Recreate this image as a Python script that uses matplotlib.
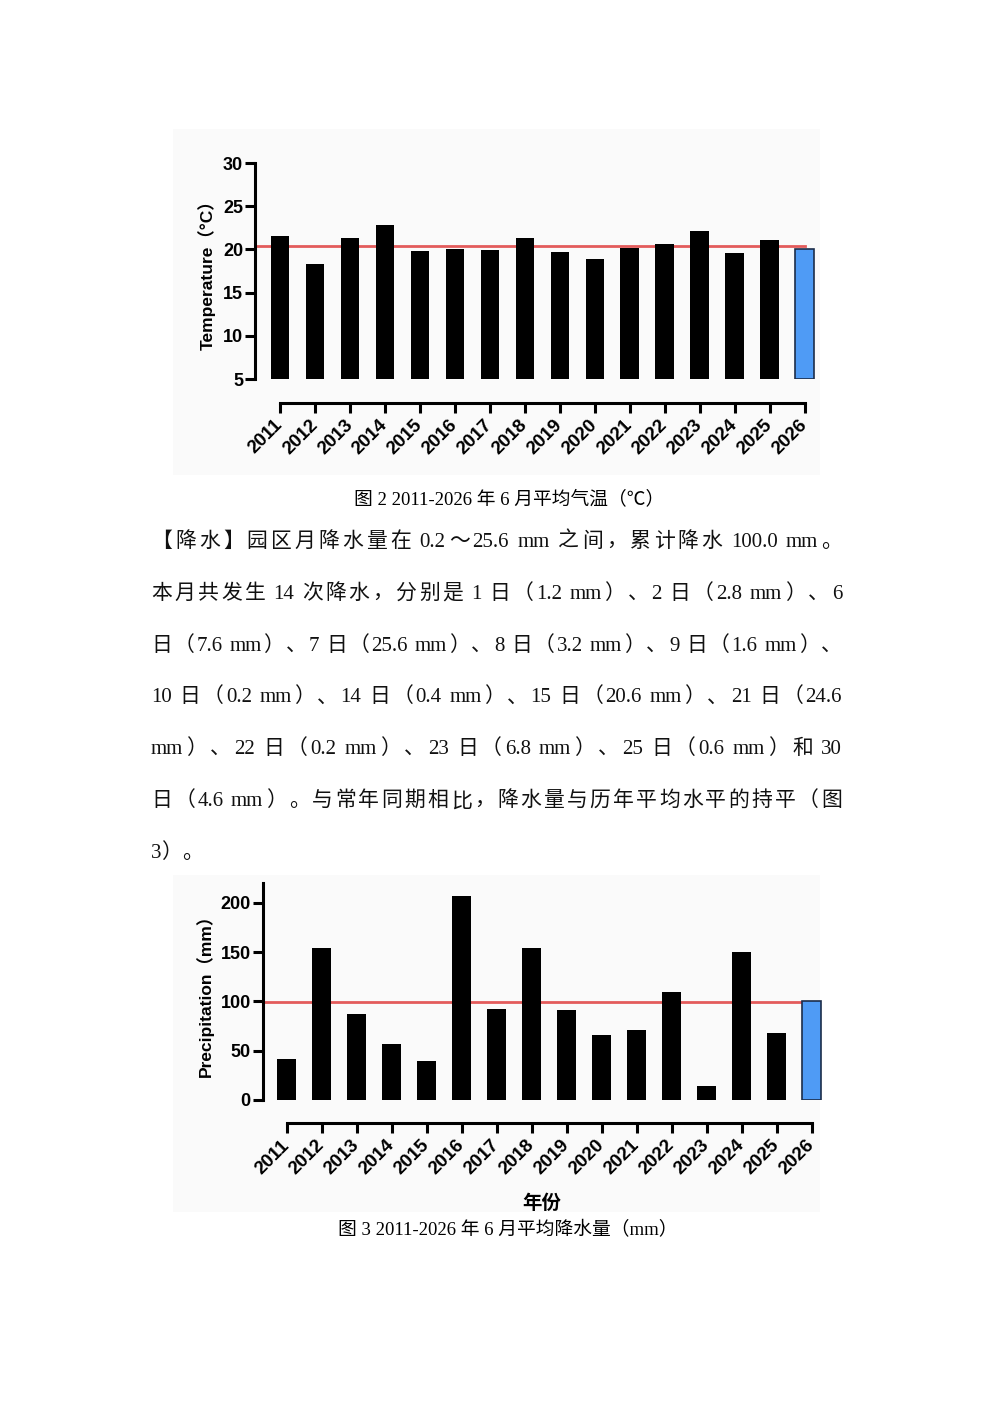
import matplotlib
matplotlib.use('Agg')
import matplotlib.pyplot as plt
from matplotlib.patches import Rectangle
from matplotlib.font_manager import FontProperties
import numpy as np

# 数据
years = [str(y) for y in range(2011, 2027)]
temperature = [21.5, 18.3, 21.3, 22.8, 19.8, 20.1, 19.9, 21.3, 19.7, 18.9, 20.2, 20.6, 22.1, 19.6, 21.1, 20.1]
temp_avg = 20.4
precipitation = [41.2, 154.4, 87.1, 56.8, 39.5, 206.5, 92.2, 154.1, 91.5, 65.6, 71.1, 109.9, 13.9, 150.0, 68.0, 100.0]
precip_avg = 99.3

caption_temp = '图 2 2011-2026 年 6 月平均气温（℃）'
caption_precip = '图 3 2011-2026 年 6 月平均降水量（mm）'
body_lines = [
    '【降水】园区月降水量在 0.2～25.6 mm 之间，累计降水 100.0 mm。',
    '本月共发生 14 次降水，分别是 1 日（1.2 mm）、2 日（2.8 mm）、6',
    '日（7.6 mm）、7 日（25.6 mm）、8 日（3.2 mm）、9 日（1.6 mm）、',
    '10 日（0.2 mm）、14 日（0.4 mm）、15 日（20.6 mm）、21 日（24.6',
    'mm）、22 日（0.2 mm）、23 日（6.8 mm）、25 日（0.6 mm）和 30',
    '日（4.6 mm）。与常年同期相比，降水量与历年平均水平的持平（图',
    '3）。',
]

W, H, DPI = 992, 1403, 100
fig = plt.figure(figsize=(W / DPI, H / DPI), dpi=DPI)
fig.patch.set_facecolor('white')


def px_axes(left, top, right, bottom):
    return fig.add_axes([left / W, 1 - bottom / H, (right - left) / W, (bottom - top) / H])


def px_rect(left, top, right, bottom, color):
    fig.add_artist(Rectangle((left / W, 1 - bottom / H), (right - left) / W, (bottom - top) / H,
                             transform=fig.transFigure, facecolor=color, edgecolor='none', zorder=0))


def bar_chart(ax, values, avg, ylim, yticks, ylabel, x_left, outward):
    x = np.arange(len(years))
    base = ylim[0]
    colors = ['black'] * (len(x) - 1) + ['#4f9bf5']
    edges = ['black'] * (len(x) - 1) + ['#1c2d4a']
    lws = [0] * (len(x) - 1) + [1.2]
    ax.plot([x_left, x[-1]], [avg, avg], color='#e35b5b', lw=2, zorder=1, clip_on=False)
    ax.bar(x, np.array(values) - base, bottom=base, width=0.53, color=colors,
           edgecolor=edges, linewidth=lws, zorder=2)
    ax.set_xlim(x_left, 15.3)
    ax.set_ylim(*ylim)
    ax.set_yticks(yticks)
    ax.set_facecolor('none')
    for s in ['top', 'right']:
        ax.spines[s].set_visible(False)
    ax.spines['left'].set_linewidth(2.2)
    ax.spines['bottom'].set_linewidth(2.2)
    ax.spines['bottom'].set_position(('outward', outward))
    ax.spines['bottom'].set_bounds(0, len(x) - 1)
    ax.tick_params(axis='both', length=7, width=2.2, direction='out')
    ax.tick_params(axis='y', pad=1.5)
    ax.tick_params(axis='x', pad=7)
    ax.set_xticks(x)
    ax.set_xticklabels(years, rotation=45, ha='right', va='center', rotation_mode='anchor',
                       fontsize=13.5, fontweight='bold', family='Liberation Sans')
    for t in ax.get_yticklabels():
        t.set_fontsize(13)
        t.set_fontweight('bold')
        t.set_family('Liberation Sans')
    ax.set_ylabel(ylabel, fontsize=12.5, fontweight='bold',
                  family=['Liberation Sans', 'Noto Sans CJK SC'], labelpad=5)


# 图 2 气温
px_rect(173, 129, 820, 475, '#fafafa')
ax1 = px_axes(255, 163, 815, 379)
bar_chart(ax1, temperature, temp_avg, (5, 30), [5, 10, 15, 20, 25, 30],
          'Temperature（°C）', -0.72, 17.3)

# 图 3 降水
px_rect(173, 875, 820, 1212, '#fafafa')
ax2 = px_axes(262.5, 883, 822, 1100)
bar_chart(ax2, precipitation, precip_avg, (0, 220), [0, 50, 100, 150, 200],
          'Precipitation（mm）', -0.69, 16.8)
ax2.set_xlabel('年份', fontsize=14, fontweight='bold', family='Noto Sans CJK SC', labelpad=11)

# 图题
cap_family = ['Liberation Serif', 'Noto Sans CJK SC']
fig.text(509 / W, 1 - 499 / H, caption_temp, ha='center', va='center', fontsize=13.5, family=cap_family)
fig.text(508 / W, 1 - 1230 / H, caption_precip, ha='center', va='center', fontsize=13.5, family=cap_family)

# 正文，两端对齐
renderer = fig.canvas.get_renderer()
body_size = 15
em = body_size * DPI / 72
latin_fp = FontProperties(family='Liberation Serif', size=body_size)
cjk_fp = FontProperties(family='Noto Sans CJK SC', size=body_size)
space_w = 0.25 * em


def is_cjk(ch):
    return ord(ch) > 0x2000


def tokenize(line):
    tokens = []
    buf = ''
    gap = 0.0
    for ch in line:
        if ch == ' ':
            if buf:
                tokens.append([buf, 'latin', gap])
                buf = ''
                gap = 0.0
            gap += space_w
        elif is_cjk(ch):
            if buf:
                tokens.append([buf, 'latin', gap])
                buf = ''
                gap = 0.0
            tokens.append([ch, 'cjk', gap])
            gap = 0.0
        else:
            buf += ch
    if buf:
        tokens.append([buf, 'latin', gap])
    return tokens


left_x, right_x = 151, 842
for i, line in enumerate(body_lines):
    y_base = 540 + i * 51.83 + 7
    toks = tokenize(line)
    widths = []
    for s, kind, g in toks:
        if kind == 'cjk':
            widths.append(em)
        else:
            widths.append(renderer.get_text_width_height_descent(s, latin_fp, ismath=False)[0])
    natural = sum(widths) + sum(t[2] for t in toks[1:])
    justify = i < len(body_lines) - 1
    extra = (right_x - left_x - natural) / (len(toks) - 1) if justify else 0.0
    x = left_x
    for j, (s, kind, g) in enumerate(toks):
        if j > 0:
            x += g + extra
        fp = cjk_fp if kind == 'cjk' else latin_fp
        fig.text(x / W, 1 - y_base / H, s, ha='left', va='baseline', fontproperties=fp, color='#111111')
        x += widths[j]

fig.savefig('out.png', dpi=DPI)
